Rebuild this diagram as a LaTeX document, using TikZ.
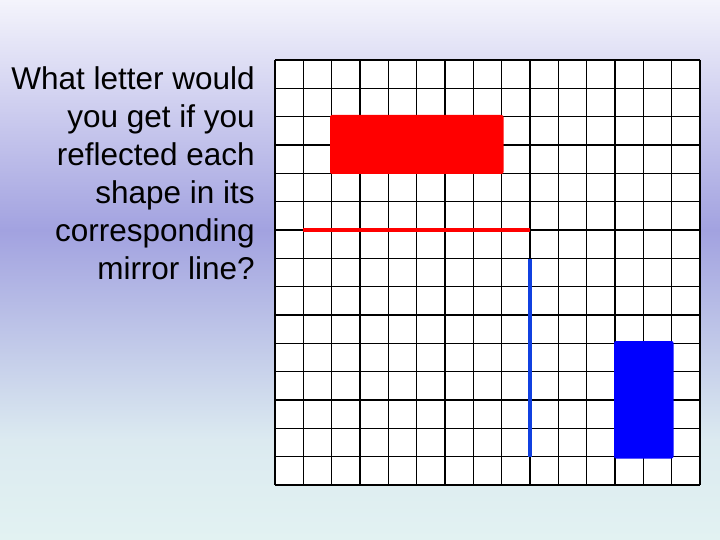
\documentclass[tikz,border=0pt]{standalone}
\usepackage{fontspec}
\setmainfont{Liberation Sans}
\definecolor{bgtop}{HTML}{F4F4FC}
\definecolor{bgmid}{HTML}{A2A2E0}
\definecolor{bgbot}{HTML}{E2F2F2}
\definecolor{mirrorblue}{HTML}{1040E0}
\tikzset{
  gridline/.style={draw=black, line width=1.2pt},
  shapebox/.style={rounded corners=2pt},
  mirror/.style={line width=3.5pt},
  question/.style={align=right, font=\fontsize{31.5}{38}\selectfont, text=black, inner sep=0pt, anchor=north east}
}
\begin{document}
\begin{tikzpicture}[x=1pt,y=-1pt]
\useasboundingbox (0,0) rectangle (720,540);
\shade[top color=bgtop, bottom color=bgmid] (0,0) rectangle (720,230.5);
\shade[top color=bgmid, bottom color=bgbot!90!bgmid] (0,230) rectangle (720,440);
\shade[top color=bgbot!90!bgmid, bottom color=bgbot] (0,439.5) rectangle (720,540);
% grid
\fill[white] (275,60) rectangle (700,485);
\foreach \i in {0,...,15}{
  \draw[gridline] ({275+\i*425/15},60) -- ({275+\i*425/15},485);
  \draw[gridline] (275,{60+\i*425/15}) -- (700,{60+\i*425/15});
}
% question text
\node[question] (q) at (255,66) {What letter would\\you get if you\\reflected each\\shape in its\\corresponding\\mirror line?};
% red shape and mirror line
\fill[red, shapebox] (330,115) rectangle (503.5,174) coordinate (redbox);
\coordinate (rl1) at (303,230);
\coordinate (rl2) at (530,230);
\draw[red, mirror] (rl1) -- (rl2);
% blue mirror line and shape
\coordinate (bl1) at (530,259);
\coordinate (bl2) at (530,457);
\draw[mirrorblue, mirror] (bl1) -- (bl2);
\fill[blue, shapebox] (614,341) rectangle (673.5,458.5) coordinate (bluebox);
\end{tikzpicture}
\end{document}
